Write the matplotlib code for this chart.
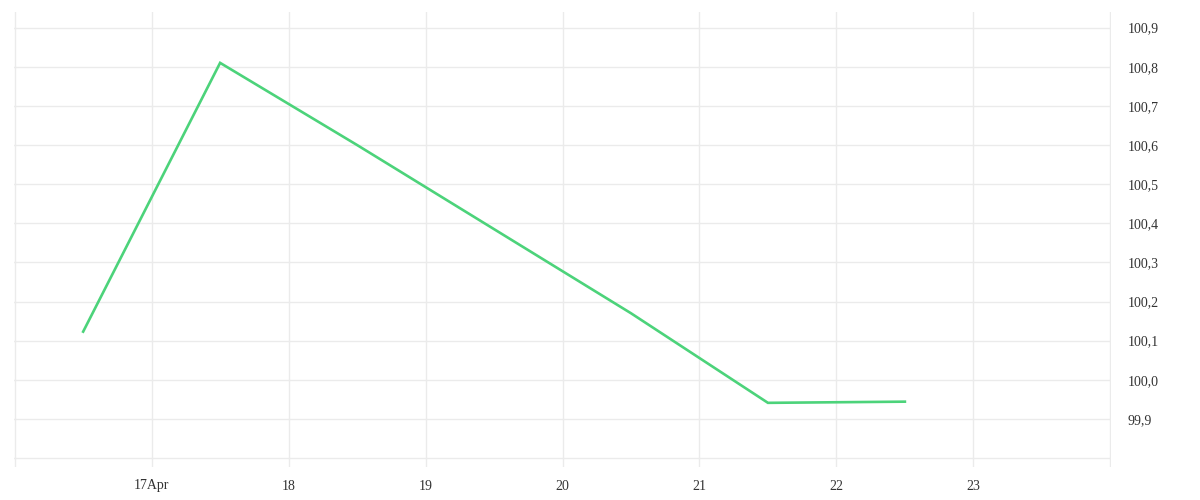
import matplotlib
matplotlib.use("Agg")
import matplotlib.pyplot as plt
import matplotlib.dates as mdates
from datetime import datetime

# Data
times = ["2024-04-16 12:00", "2024-04-17 12:00", "2024-04-18 12:00", "2024-04-19 12:00",
         "2024-04-20 12:00", "2024-04-21 12:00", "2024-04-22 12:00"]
values = [100.123, 100.81, 100.60, 100.385, 100.17, 99.941, 99.944]
tick_days = ["2024-04-16", "2024-04-17", "2024-04-18", "2024-04-19", "2024-04-20",
             "2024-04-21", "2024-04-22", "2024-04-23", "2024-04-24"]
tick_labels = ["", "17Apr", "18", "19", "20", "21", "22", "23", ""]
y_ticks = [99.8, 99.9, 100.0, 100.1, 100.2, 100.3, 100.4, 100.5, 100.6, 100.7, 100.8, 100.9]

x = [datetime.strptime(t, "%Y-%m-%d %H:%M") for t in times]
xt = [datetime.strptime(t, "%Y-%m-%d") for t in tick_days]

plt.rcParams['font.family'] = ['Liberation Serif', 'DejaVu Serif']

fig = plt.figure(figsize=(12, 5), dpi=100)
ax = fig.add_axes([14/1200, 1 - 467/500, (1111 - 14)/1200, (467 - 12)/500])

ax.plot(x, values, color="#4cd37a", linewidth=1.9, solid_joinstyle="miter")

ax.set_xlim(mdates.date2num(xt[0]) - 0.005, mdates.date2num(xt[-1]) + 0.005)
ax.set_ylim(99.777, 100.94)

ax.set_xticks(xt)
ax.set_xticklabels(tick_labels)
ax.set_yticks(y_ticks)
ax.set_yticklabels(["" if v < 99.85 else f"{v:.1f}".replace(".", ",") for v in y_ticks])

ax.yaxis.tick_right()
ax.tick_params(axis="both", length=0, labelsize=10, colors="#333333")
ax.tick_params(axis="y", pad=12)
ax.tick_params(axis="x", pad=9)
for lab in ax.get_yticklabels():
    lab.set_horizontalalignment("left")

ax.grid(True, color="#ebebeb", linewidth=1)
ax.set_axisbelow(True)
for s in ax.spines.values():
    s.set_visible(False)

fig.savefig("out.png", dpi=100, facecolor="white")
